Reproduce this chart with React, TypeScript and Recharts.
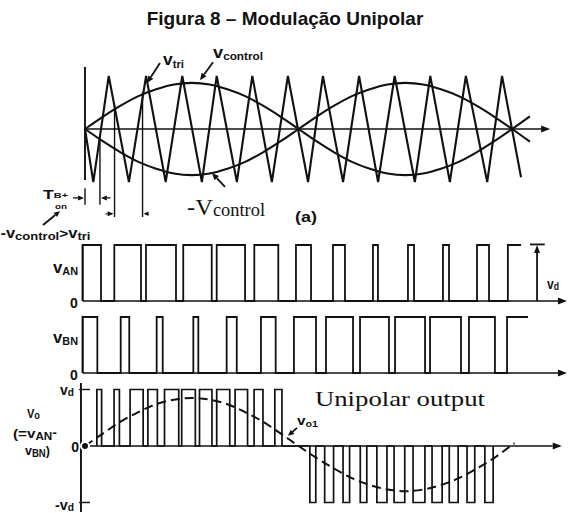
import React from 'react';
import { ComposedChart, Line, XAxis, YAxis, ReferenceLine, ReferenceDot } from 'recharts';

// x is ωt in degrees everywhere; y = 1 is the triangle peak (panel a) or Vd (other panels)
const triangleStart = { t: 0, v: 0 };
const triangleBottoms = [7, 37, 68, 98.5, 128, 157.5, 188, 217.5, 247, 278, 307.5, 339];
const triangleTops = [20, 51.5, 82, 111, 141, 171, 200.5, 231, 261, 291, 321, 351.5];
const triangleEnd = { t: 367.5, v: -0.91 };

const sineAngles = [0, 15, 30, 45, 60, 75, 90, 105, 120, 135, 150, 165, 180, 195, 210, 225, 240, 255, 270, 285, 300, 315, 330, 345, 360, 375];
const vControl = [0, 0.23, 0.44, 0.62, 0.75, 0.84, 0.87, 0.84, 0.75, 0.62, 0.44, 0.23, 0, -0.23, -0.44, -0.62, -0.75, -0.84, -0.87, -0.84, -0.75, -0.62, -0.44, -0.23, 0, 0.24];

const vanPulses: [number, number][] = [[-2, 13.5], [24.7, 47.2], [51.4, 76.7], [82.8, 106.8], [111, 134.9], [142.7, 162.9], [177.8, 190.5], [209, 219.1], [242.7, 246.9], [272.2, 277.3], [301.7, 306.8], [330.4, 340.5]];
const vanLastRise: [number, number] = [356.4, 367.5];
const vbnPulses: [number, number][] = [[-2, 10.4], [30.1, 37.3], [60.4, 65.5], [91.3, 95.5], [119.4, 127.9], [148.3, 160.7], [176.1, 194.7], [203.1, 225.9], [231.8, 256.2], [261.3, 286.6], [290.8, 316.9], [323.6, 345.5]];
const vbnLastRise: [number, number] = [355.7, 373.4];

const voPositive: [number, number][] = [[10, 14], [24.5, 29], [38, 49], [53, 61], [67, 79], [81.5, 93], [96.5, 107], [111, 122], [126.5, 137], [142.5, 150], [160, 166]];
const voNegative: [number, number][] = [[189.5, 194.5], [202, 209.5], [217.5, 223], [232, 237.5], [246, 254.5], [260.5, 269.5], [276.5, 286.5], [292.5, 301], [307, 314.5], [322, 328.5], [337, 344]];

const vo1Angles = [0, 15, 30, 45, 60, 75, 90, 105, 120, 135, 150, 165, 180, 195, 210, 225, 240, 255, 270, 285, 300, 315, 330, 345, 360, 362];
const vo1 = [0, 0.22, 0.43, 0.6, 0.74, 0.82, 0.85, 0.82, 0.74, 0.6, 0.43, 0.22, 0, -0.21, -0.4, -0.57, -0.69, -0.77, -0.8, -0.77, -0.69, -0.57, -0.4, -0.21, 0.02, 0.05];

const W = 570;
const H = 513;
const PX0 = 85;
const PX_PER_DEG = 1.1865;
const X_DOMAIN: [number, number] = [-PX0 / PX_PER_DEG, (W - PX0) / PX_PER_DEG];
const INK = '#111';
const SANS = '"Liberation Sans", Arial, sans-serif';
const SERIF = '"Liberation Serif", "Times New Roman", serif';

const triangle = [
  triangleStart,
  ...triangleBottoms.flatMap((b, i) => [{ t: b, v: -1 }, { t: triangleTops[i], v: 1 }]),
  triangleEnd,
];
const ctlPts = sineAngles.map((t, i) => ({ t, v: vControl[i] }));
const ctlNegPts = sineAngles.map((t, i) => ({ t, v: -vControl[i] }));
const vo1Pts = vo1Angles.map((t, i) => ({ t, v: vo1[i] }));

const pulseTrain = (pulses: [number, number][], level: number, tail?: [number, number]) => {
  const pts: { t: number; v: number }[] = [];
  pulses.forEach(([a, b]) => {
    pts.push({ t: a, v: 0 }, { t: a, v: level }, { t: b, v: level }, { t: b, v: 0 });
  });
  if (tail) pts.push({ t: tail[0], v: 0 }, { t: tail[0], v: level }, { t: tail[1], v: level });
  return pts;
};
const vanPts = pulseTrain(vanPulses, 1, vanLastRise);
const vbnPts = pulseTrain(vbnPulses, 1, vbnLastRise);
const voPts = [...pulseTrain(voPositive, 1), ...pulseTrain(voNegative, -1)];

type Part = { s: string; size: number; shift?: number };
type LabelOpt = { serif?: boolean; len?: number; anchor?: 'start' | 'middle' | 'end' };

const label = (key: string, t: number, v: number, parts: Part[], opt: LabelOpt = {}) => (
  <ReferenceDot
    key={key}
    x={t}
    y={v}
    r={0}
    ifOverflow="visible"
    shape={(p: any) => {
      let prev = 0;
      return (
        <text
          x={p.cx}
          y={p.cy}
          fill={INK}
          fontFamily={opt.serif ? SERIF : SANS}
          fontWeight={opt.serif ? 'normal' : 'bold'}
          textAnchor={opt.anchor ?? 'start'}
          textLength={opt.len}
          lengthAdjust="spacingAndGlyphs"
        >
          {parts.map((q, i) => {
            const s = q.shift ?? 0;
            const dy = s - prev;
            prev = s;
            return (
              <tspan key={i} fontSize={q.size} dy={dy}>
                {q.s}
              </tspan>
            );
          })}
        </text>
      );
    }}
  />
);

const seg = (key: string, a: [number, number], b: [number, number], sw = 1.6) => (
  <ReferenceLine
    key={key}
    segment={[{ x: a[0], y: a[1] }, { x: b[0], y: b[1] }]}
    stroke={INK}
    strokeWidth={sw}
    ifOverflow="visible"
  />
);

const arrow = (key: string, a: [number, number], b: [number, number], head = 7, half = 3, sw = 1.5) => (
  <ReferenceLine
    key={key}
    segment={[{ x: a[0], y: a[1] }, { x: b[0], y: b[1] }]}
    ifOverflow="visible"
    shape={(p: any) => {
      const { x1, y1, x2, y2 } = p;
      const ang = Math.atan2(y2 - y1, x2 - x1);
      const bx = x2 - head * Math.cos(ang);
      const by = y2 - head * Math.sin(ang);
      const nx = -Math.sin(ang) * half;
      const ny = Math.cos(ang) * half;
      return (
        <g>
          <line x1={x1} y1={y1} x2={bx} y2={by} stroke={INK} strokeWidth={sw} />
          <polygon points={`${x2},${y2} ${bx + nx},${by + ny} ${bx - nx},${by - ny}`} fill={INK} />
        </g>
      );
    }}
  />
);

const Panel = ({ zeroY, ppu, children }: { zeroY: number; ppu: number; children: React.ReactNode }) => (
  <div style={{ position: 'absolute', left: 0, top: 0 }}>
    <ComposedChart width={W} height={H} margin={{ top: 0, right: 0, bottom: 0, left: 0 }}>
      <XAxis dataKey="t" type="number" domain={X_DOMAIN} hide allowDataOverflow />
      <YAxis type="number" domain={[(zeroY - H) / ppu, zeroY / ppu]} hide allowDataOverflow />
      {children}
    </ComposedChart>
  </div>
);

export default function App() {
  return (
    <div style={{ position: 'absolute', left: 0, top: 0, width: W, height: H, background: '#fff', overflow: 'hidden' }}>
      <div
        style={{
          position: 'absolute',
          left: 0,
          top: 9,
          width: W,
          textAlign: 'center',
          fontFamily: SANS,
          fontWeight: 'bold',
          fontSize: 19,
          lineHeight: '19px',
          color: INK,
        }}
      >
        Figura 8 – Modulação Unipolar
      </div>

      {/* (a) carrier and control signals */}
      <Panel zeroY={129} ppu={53}>
        {seg('ay', [0, 1.17], [0, -0.96], 1.9)}
        {arrow('ax', [0, 0], [392, 0], 9, 3.5, 1.7)}
        <Line data={triangle} dataKey="v" type="linear" dot={false} stroke={INK} strokeWidth={2.1} isAnimationActive={false} />
        <Line data={ctlPts} dataKey="v" type="monotone" dot={false} stroke={INK} strokeWidth={2.1} isAnimationActive={false} />
        <Line data={ctlNegPts} dataKey="v" type="monotone" dot={false} stroke={INK} strokeWidth={2.1} isAnimationActive={false} />
        {seg('m0', [0, -1.12], [0, -1.43], 1.4)}
        {seg('m1', [12.6, -0.2], [12.6, -1.43], 1.4)}
        {seg('m2', [24.9, 0.45], [24.9, -1.66], 1.4)}
        {seg('m3', [48.5, 0.7], [48.5, -1.66], 1.4)}
        {arrow('d1', [-10.1, -1.3], [-0.8, -1.3], 6, 2.5, 1.3)}
        {arrow('d2', [21.5, -1.3], [13.4, -1.3], 6, 2.5, 1.3)}
        {arrow('d3', [17.5, -1.6], [24.1, -1.6], 6, 2.5, 1.3)}
        {arrow('d4', [54, -1.6], [49.3, -1.6], 5, 2.2, 1.3)}
        {arrow('atri', [63.2, 1.245], [52.3, 0.87], 7, 3, 1.8)}
        {arrow('actl', [107.9, 1.26], [96.9, 0.92], 7, 3, 1.8)}
        {arrow('aneg', [118, -1.09], [107, -0.83], 7, 3, 1.8)}
        {arrow('aon', [-35.4, -1.81], [-21.1, -1.55], 6, 2.8, 1.8)}
        {label('vtri', 65.7, 1.21, [{ s: 'v', size: 17 }, { s: 'tri', size: 11, shift: 3 }], { len: 21 })}
        {label('vctl', 107.9, 1.34, [{ s: 'v', size: 17 }, { s: 'control', size: 11, shift: 2 }], { len: 50 })}
        {label('nctl', 86, -1.62, [{ s: '-V', size: 24 }, { s: 'control', size: 18, shift: 1 }], { serif: true, len: 78 })}
        {label('a', 177, -1.75, [{ s: '(a)', size: 14 }], { len: 22 })}
        {label('T', -35.4, -1.32, [{ s: 'T', size: 13 }, { s: 'B+', size: 8, shift: -1 }], { len: 25 })}
        {label('on', -25.3, -1.5, [{ s: 'on', size: 8 }], { len: 12 })}
        {label(
          'cmp',
          -71.3,
          -2.06,
          [
            { s: '-v', size: 14 },
            { s: 'control', size: 11, shift: 2 },
            { s: '>', size: 13 },
            { s: 'v', size: 14 },
            { s: 'tri', size: 11, shift: 2 },
          ],
          { len: 90 }
        )}
      </Panel>

      {/* vAN */}
      <Panel zeroY={301} ppu={56}>
        {seg('ay', [-2, 0], [-2, 1], 1.7)}
        {arrow('ax', [-2, 0], [406.2, 0], 9, 3.5, 1.7)}
        <Line data={vanPts} dataKey="v" type="linear" dot={false} stroke={INK} strokeWidth={1.8} isAnimationActive={false} />
        {arrow('vd', [381, 0], [381, 1], 8, 3, 1.8)}
        {seg('vdbar', [375, 1.01], [387.5, 1.01], 1.8)}
        {label('van', -27, 0.5, [{ s: 'v', size: 17 }, { s: 'AN', size: 11, shift: 2 }], { len: 25 })}
        {label('z', -9.3, -0.125, [{ s: '0', size: 14 }], { anchor: 'middle' })}
        {label('vdl', 389.4, 0.21, [{ s: 'v', size: 14 }, { s: 'd', size: 10, shift: 1 }], { len: 12 })}
      </Panel>

      {/* vBN */}
      <Panel zeroY={373} ppu={56}>
        {seg('ay', [-2, 0], [-2, 1.02], 1.7)}
        {arrow('ax', [-2, 0], [406.2, 0], 9, 3.5, 1.7)}
        <Line data={vbnPts} dataKey="v" type="linear" dot={false} stroke={INK} strokeWidth={1.8} isAnimationActive={false} />
        {label('vbn', -27, 0.54, [{ s: 'v', size: 17 }, { s: 'BN', size: 11, shift: 2 }], { len: 25 })}
        {label('z', -9.3, -0.125, [{ s: '0', size: 14 }], { anchor: 'middle' })}
      </Panel>

      {/* vo = vAN - vBN */}
      <Panel zeroY={446} ppu={56.5}>
        {seg('ay', [-3.4, 1.115], [-3.4, -1.17], 1.9)}
        {seg('tp', [-5, 1], [4.2, 1], 1.4)}
        {seg('tn', [-5, -1], [4.2, -1], 1.4)}
        {arrow('ax', [-3.4, 0], [401.8, 0], 9, 3.5, 1.7)}
        <Line data={voPts} dataKey="v" type="linear" dot={false} stroke={INK} strokeWidth={1.7} isAnimationActive={false} />
        <Line data={vo1Pts} dataKey="v" type="monotone" dot={false} stroke={INK} strokeWidth={2} strokeDasharray="9 5" isAnimationActive={false} />
        {arrow('avo1', [178.7, 0.32], [171.1, 0.18], 6, 2.8, 1.8)}
        {label('vo', -48.9, 0.5, [{ s: 'V', size: 12 }, { s: 'o', size: 10, shift: 1 }], { len: 13 })}
        {label('eq1', -60.7, 0.14, [{ s: '(=v', size: 13 }, { s: 'AN', size: 10, shift: 2 }, { s: '-', size: 12, shift: -1 }], { len: 44 })}
        {label('eq2', -50.6, -0.16, [{ s: 'v', size: 13 }, { s: 'BN', size: 10, shift: 2 }, { s: ')', size: 13 }], { len: 25 })}
        {label('vd', -21.1, 0.9, [{ s: 'v', size: 14 }, { s: 'd', size: 10, shift: 1 }], { len: 14 })}
        {label('nvd', -25.3, -1.13, [{ s: '-v', size: 14 }, { s: 'd', size: 10, shift: 1 }], { len: 19 })}
        {label('z', -8.4, -0.106, [{ s: '0', size: 14 }], { anchor: 'middle' })}
        {label('uni', 193.8, 0.71, [{ s: 'Unipolar output', size: 21 }], { serif: true, len: 170 })}
        {label('vo1', 178.7, 0.37, [{ s: 'v', size: 13 }, { s: 'o1', size: 9, shift: 2 }], { len: 21 })}
      </Panel>
    </div>
  );
}
